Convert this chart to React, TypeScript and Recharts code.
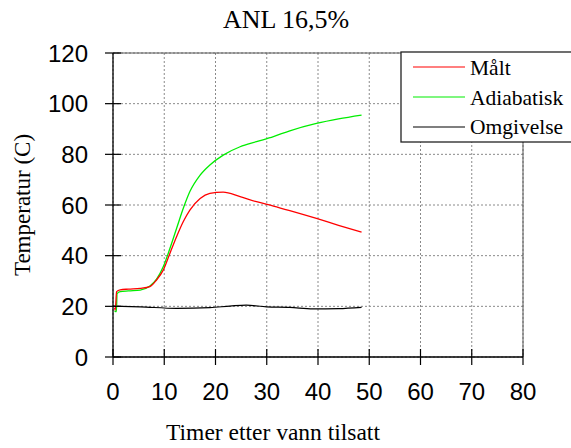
import React from 'react';
import { LineChart, Line, XAxis, YAxis, CartesianGrid, ReferenceLine } from 'recharts';

const chartTitle = 'ANL 16,5%';
const xAxisLabel = 'Timer etter vann tilsatt';
const yAxisLabel = 'Temperatur (C)';
const xTicks = [0, 10, 20, 30, 40, 50, 60, 70, 80];
const yTicks = [0, 20, 40, 60, 80, 100, 120];
const seriesNames = ['Målt', 'Adiabatisk', 'Omgivelse'];

const maltTimes = [0.3, 0.45, 0.7, 1.4, 3, 5.3, 7.2, 8.5, 9.8, 11.1, 12.4, 13.7, 15, 17, 18.9, 21.5, 24.8, 28, 31.3, 34.5, 39.7, 44, 48.5];
const maltValues = [19.5, 18.5, 25.8, 26.5, 26.8, 27.1, 27.8, 30.4, 34.3, 40.9, 47.5, 53.4, 58, 62.6, 64.6, 65.1, 63.3, 61.3, 59.6, 57.8, 54.7, 52, 49.3];

const adiaTimes = [0.3, 0.65, 0.8, 1.4, 3, 5.3, 7.2, 8.5, 9.8, 11.1, 12.4, 13.7, 15, 17, 18.9, 21.5, 24.8, 28, 31.3, 34.5, 39.7, 44, 48.5];
const adiaValues = [18.3, 17.9, 25.0, 25.8, 26.1, 26.4, 28, 30.7, 35.6, 42.8, 50.7, 58.6, 65.3, 71.8, 75.8, 79.7, 83, 85, 87, 89.3, 92.2, 94, 95.5];

const omgTimes = [0, 5.3, 12.4, 18.9, 22.8, 26, 30, 34.5, 39, 44, 48.5];
const omgValues = [20.1, 19.8, 19.2, 19.5, 20.1, 20.5, 19.8, 19.6, 19.0, 19.1, 19.6];

const colors = ['#ff0000', '#00ee00', '#000000'];

const toRows = (ts: number[], vs: number[]) => ts.map((t, i) => ({ t, v: vs[i] }));
const maltData = toRows(maltTimes, maltValues);
const adiaData = toRows(adiaTimes, adiaValues);
const omgData = toRows(omgTimes, omgValues);

const sans = '"Liberation Sans", Arial, sans-serif';
const serif = '"Liberation Serif", "Times New Roman", serif';

const YTick = (props: any) => {
  const { x, y, payload } = props;
  return (
    <g>
      <line x1={x - 8} x2={x + 8} y1={y} y2={y} stroke="#000" strokeWidth={1.2} />
      <text x={x - 25} y={y + 8.5} textAnchor="end" fontFamily={sans} fontSize={24} fill="#000">
        {payload.value}
      </text>
    </g>
  );
};

const XTick = (props: any) => {
  const { x, y, payload } = props;
  return (
    <g>
      <line x1={x} x2={x} y1={y - 8} y2={y + 8} stroke="#000" strokeWidth={1.2} />
      <text x={x} y={y + 43} textAnchor="middle" fontFamily={sans} fontSize={24} fill="#000">
        {payload.value}
      </text>
    </g>
  );
};

export default function App() {
  const W = 571;
  const H = 448;
  return (
    <div style={{ position: 'absolute', left: 0, top: 0, width: W, height: H, background: '#fff' }}>
      <LineChart width={W} height={H} margin={{ top: 53, right: 48, bottom: 0, left: 0 }}>
        <CartesianGrid stroke="#8a8a8a" strokeDasharray="2 2" />
        <XAxis
          type="number"
          dataKey="t"
          domain={[0, 80]}
          ticks={xTicks}
          height={91}
          tickSize={0}
          tickMargin={0}
          tickLine={false}
          axisLine={{ stroke: '#000', strokeWidth: 1.3 }}
          tick={<XTick />}
          allowDataOverflow
        />
        <YAxis
          type="number"
          domain={[0, 120]}
          ticks={yTicks}
          width={113}
          tickSize={0}
          tickMargin={0}
          tickLine={false}
          axisLine={{ stroke: '#000', strokeWidth: 1.3 }}
          tick={<YTick />}
          allowDataOverflow
        />
        <ReferenceLine y={120} stroke="#555" strokeWidth={1} />
        <ReferenceLine x={80} stroke="#555" strokeWidth={1} />
        <Line data={omgData} dataKey="v" type="monotone" stroke={colors[2]} strokeWidth={1.2} dot={false} isAnimationActive={false} />
        <Line data={adiaData} dataKey="v" type="monotone" stroke={colors[1]} strokeWidth={1.3} dot={false} isAnimationActive={false} />
        <Line data={maltData} dataKey="v" type="monotone" stroke={colors[0]} strokeWidth={1.3} dot={false} isAnimationActive={false} />
      </LineChart>
      <svg width={W} height={H} style={{ position: 'absolute', left: 0, top: 0, pointerEvents: 'none' }}>
        <text x={286} y={28} textAnchor="middle" fontFamily={serif} fontSize={26} fill="#000">{chartTitle}</text>
        <text x={273} y={440} textAnchor="middle" fontFamily={serif} fontSize={23.5} fill="#000">{xAxisLabel}</text>
        <text
          x={0}
          y={0}
          transform="translate(30,205) rotate(-90)"
          textAnchor="middle"
          fontFamily={serif}
          fontSize={23}
          fill="#000"
        >
          {yAxisLabel}
        </text>
        <rect x={401} y={52} width={180} height={90} fill="#fff" stroke="#222" strokeWidth={1.3} />
        {seriesNames.map((name, i) => (
          <g key={name}>
            <line x1={413} x2={465} y1={67 + i * 30} y2={67 + i * 30} stroke={colors[i]} strokeWidth={1.2} />
            <text x={470} y={75 + i * 29.5} fontFamily={serif} fontSize={21.5} fill="#000">{name}</text>
          </g>
        ))}
      </svg>
    </div>
  );
}
